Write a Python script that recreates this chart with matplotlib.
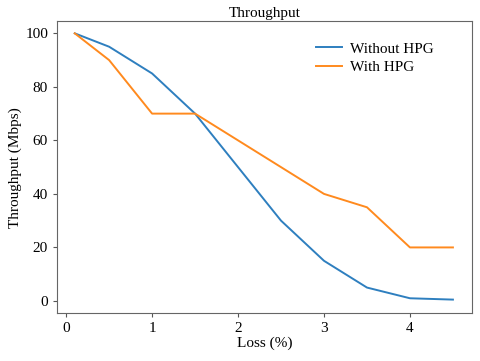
import matplotlib.pyplot as plt

plt.rcParams['font.family'] = ['Liberation Serif', 'DejaVu Serif']

loss = [0.1, 0.5, 1, 1.5, 2, 2.5, 3, 3.5, 4, 4.5]
without_hpg = [100, 95, 85, 70, 50, 30, 15, 5, 1, 0.5]
with_hpg = [100, 90, 70, 70, 60, 50, 40, 35, 20, 20]

fig = plt.figure(figsize=(4.8, 3.61), dpi=100)
ax = fig.add_axes([0.119, 0.133, 0.864, 0.808])
ax.plot(loss, without_hpg, color='#2e7fbf', lw=1.4, label="Without HPG")
ax.plot(loss, with_hpg, color='#ff8a1e', lw=1.4, label="With HPG")

ax.set_xlim(-0.105, 4.72)
ax.set_ylim(-4.5, 104.5)
ax.set_xticks([0, 1, 2, 3, 4])
ax.set_yticks([0, 20, 40, 60, 80, 100])
ax.tick_params(labelsize=11, length=3, color='#555555')
for s in ax.spines.values():
    s.set_color('#666666')

ax.set_xlabel("Loss (%)", fontsize=11, labelpad=1)
ax.set_ylabel("Throughput (Mbps)", fontsize=11, labelpad=2)
ax.set_title("Throughput", fontsize=11, pad=3)
ax.legend(loc='upper left', frameon=False, fontsize=11, bbox_to_anchor=(0.61, 0.95),
          handlelength=1.7, handletextpad=0.5, borderaxespad=0.0, labelspacing=0.3)

fig.savefig("out.png", dpi=100)
